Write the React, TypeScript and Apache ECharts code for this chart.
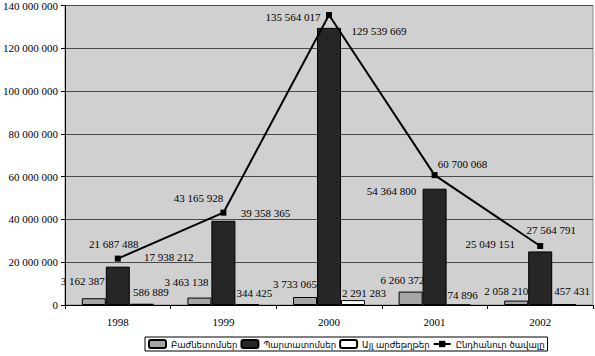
import React, { useEffect, useRef } from "react";
import * as echarts from "echarts";

const years = ["1998", "1999", "2000", "2001", "2002"];
const shares = [3162387, 3463138, 3733065, 6260372, 2058210];
const bonds = [17938212, 39358365, 129539669, 54364800, 25049151];
const otherSecurities = [586889, 344425, 2291283, 74896, 457431];
const totalVolume = [21687488, 43165928, 135564017, 60700068, 27564791];
const seriesNames = ["Բաժնետոմսեր", "Պարտատոմսեր", "Այլ արժեթղթեր", "Ընդհանուր ծավալը"];

// label placement offsets (layout only)
const sharesLabelOffsets = [[-11, -17], [-13, -16], [-10, -13], [-8, -12], [-10, -10]];
const bondsLabelOffsets = [[51, -10], [42, -8], [50, 3], [-43, 2], [-50, -7]];
const otherLabelOffsets = [[9, -12], [7, -11], [11, -7], [4, -9], [8, -13]];
const totalLabelOffsets = [[-4, -15], [-25, -15], [-36, 2], [28, -11], [11, -16]];

const fmt = (v: number) => String(Math.round(v)).replace(/\B(?=(\d{3})+(?!\d))/g, " ");
const serif = "'Liberation Serif', 'Times New Roman', serif";

function withLabels(values: number[], offsets: number[][], isLine = false) {
  return values.map((v, i) => ({
    value: v,
    label: {
      show: true,
      position: isLine ? ["50%", "50%"] : ["50%", 0],
      align: "center",
      verticalAlign: "middle",
      offset: offsets[i],
      formatter: (p: any) => fmt(p.value),
      fontFamily: serif,
      fontSize: 11,
      color: "#000",
    },
  }));
}

export default function App() {
  const ref = useRef<HTMLDivElement>(null);
  useEffect(() => {
    if (!ref.current) return;
    const chart = echarts.init(ref.current, null, { renderer: "svg" });
    chart.setOption({
      animation: false,
      backgroundColor: "#ffffff",
      grid: {
        left: 61,
        right: 2,
        top: 4,
        bottom: 51,
        show: true,
        backgroundColor: "#d0d0d0",
        borderColor: "#8a8a8a",
        borderWidth: 1,
      },
      legend: {
        left: 145,
        top: 337,
        width: 440,
        padding: [2, 3],
        itemWidth: 17,
        itemHeight: 8,
        itemGap: 3,
        borderColor: "#000",
        borderWidth: 1,
        backgroundColor: "#fff",
        textStyle: { fontFamily: "'DejaVu Sans Condensed', 'DejaVu Sans', sans-serif", fontSize: 9.5, color: "#000" },
        data: seriesNames,
      },
      xAxis: {
        type: "category",
        data: years,
        axisLine: { lineStyle: { color: "#000" } },
        axisTick: { show: true, length: 4, lineStyle: { color: "#000" } },
        axisLabel: { fontFamily: serif, fontSize: 11, color: "#000", margin: 11 },
      },
      yAxis: {
        type: "value",
        min: 0,
        max: 140000000,
        interval: 20000000,
        axisLine: { show: true, lineStyle: { color: "#000" } },
        axisTick: { show: true, length: 4, lineStyle: { color: "#000" } },
        splitLine: { lineStyle: { color: "#4a4a4a", width: 1 } },
        axisLabel: { fontFamily: serif, fontSize: 11, color: "#000", margin: 7, formatter: (v: number) => fmt(v) },
      },
      series: [
        {
          name: seriesNames[0],
          type: "bar",
          barWidth: 24,
          barGap: "0%",
          itemStyle: { color: "#a6a6a6", borderColor: "#000", borderWidth: 1 },
          data: withLabels(shares, sharesLabelOffsets),
        },
        {
          name: seriesNames[1],
          type: "bar",
          barWidth: 24,
          barGap: "0%",
          itemStyle: { color: "#262626", borderColor: "#000", borderWidth: 1 },
          data: withLabels(bonds, bondsLabelOffsets),
        },
        {
          name: seriesNames[2],
          type: "bar",
          barWidth: 24,
          barGap: "0%",
          itemStyle: { color: "#ffffff", borderColor: "#000", borderWidth: 1 },
          data: withLabels(otherSecurities, otherLabelOffsets),
        },
        {
          name: seriesNames[3],
          type: "line",
          symbol: "rect",
          symbolSize: 6,
          lineStyle: { color: "#000", width: 2 },
          itemStyle: { color: "#000" },
          z: 5,
          data: withLabels(totalVolume, totalLabelOffsets, true),
        },
      ],
    });
    return () => chart.dispose();
  }, []);
  return (
    <div
      ref={ref}
      style={{ position: "absolute", left: 0, top: 0, width: 595, height: 356, background: "#fff" }}
    />
  );
}
